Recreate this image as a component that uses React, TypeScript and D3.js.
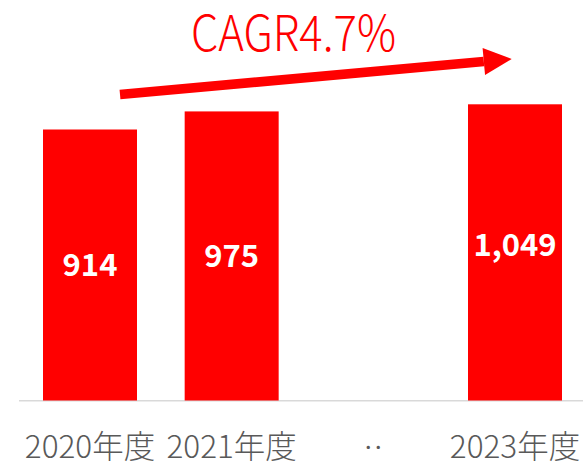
import React from "react";
import * as d3 from "d3";

const categories = ["2020年度", "2021年度", "‥", "2023年度"];
const barValues: (number | null)[] = [914, 975, null, 999];
const labelValues: (number | null)[] = [914, 975, null, 1049];
const labelTexts = ["914", "975", "", "1,049"];
const cagrText = "CAGR4.7%";

const W = 583;
const H = 462;
const RED = "#ff0000";

export default function App() {
  const x = d3
    .scaleBand<string>()
    .domain(categories)
    .range([19.2, 585.8])
    .paddingInner(0.3365)
    .paddingOuter(0.168);
  const y = d3.scaleLinear().domain([0, 1200]).range([400.5, 44.7]);

  // arrow geometry
  const start = [120, 94.5];
  const tip = [511.7, 59];
  const dx = tip[0] - start[0];
  const dy = tip[1] - start[1];
  const L = Math.hypot(dx, dy);
  const ux = dx / L, uy = dy / L;
  const nx = -uy, ny = ux;
  const headLen = 28, headHalf = 13.5, shaftHalf = 4.8;
  const bx = tip[0] - ux * headLen, by = tip[1] - uy * headLen;
  const shaft = [
    [start[0] + nx * shaftHalf, start[1] + ny * shaftHalf],
    [bx + nx * shaftHalf, by + ny * shaftHalf],
    [bx - nx * shaftHalf, by - ny * shaftHalf],
    [start[0] - nx * shaftHalf, start[1] - ny * shaftHalf],
  ];
  const head = [
    [bx + nx * headHalf, by + ny * headHalf],
    [tip[0], tip[1]],
    [bx - nx * headHalf, by - ny * headHalf],
  ];
  const pts = (p: number[][]) => p.map((q) => q.join(",")).join(" ");

  return (
    <svg
      width={W}
      height={H}
      style={{ position: "absolute", left: 0, top: 0, background: "#fff" }}
      fontFamily="'Noto Sans CJK JP', 'Noto Sans', sans-serif"
    >
      <line x1={19} x2={583} y1={400.7} y2={400.7} stroke="#d9d9d9" strokeWidth={1.5} />
      {categories.map((c, i) => {
        const v = barValues[i];
        if (v == null) return null;
        return (
          <rect
            key={c}
            x={x(c)}
            y={y(v)}
            width={x.bandwidth()}
            height={y(0) - y(v)}
            fill={RED}
          />
        );
      })}
      {categories.map((c, i) => {
        const lv = labelValues[i];
        if (lv == null) return null;
        const cy = (y(lv) + y(0)) / 2;
        return (
          <text
            key={c + "l"}
            x={(x(c) as number) + x.bandwidth() / 2}
            y={cy}
            dy="0.36em"
            textAnchor="middle"
            fill="#fff"
            fontWeight={700}
            fontSize={31}
          >
            {labelTexts[i]}
          </text>
        );
      })}
      {categories.map((c) => {
        const dots = c === "‥";
        return (
          <text
            key={c + "x"}
            x={(x(c) as number) + x.bandwidth() / 2}
            y={dots ? 455 : 458}
            textAnchor="middle"
            fill="#595959"
            fontWeight={dots ? 700 : 300}
            fontSize={dots ? 20 : 31.5}
          >
            {c}
          </text>
        );
      })}
      <polygon points={pts(shaft)} fill={RED} />
      <polygon points={pts(head)} fill={RED} />
      <text
        x={293.5}
        y={51}
        textAnchor="middle"
        fill={RED}
        fontWeight={300}
        fontSize={49}
        textLength={205}
        lengthAdjust="spacingAndGlyphs"
      >
        {cagrText}
      </text>
    </svg>
  );
}
